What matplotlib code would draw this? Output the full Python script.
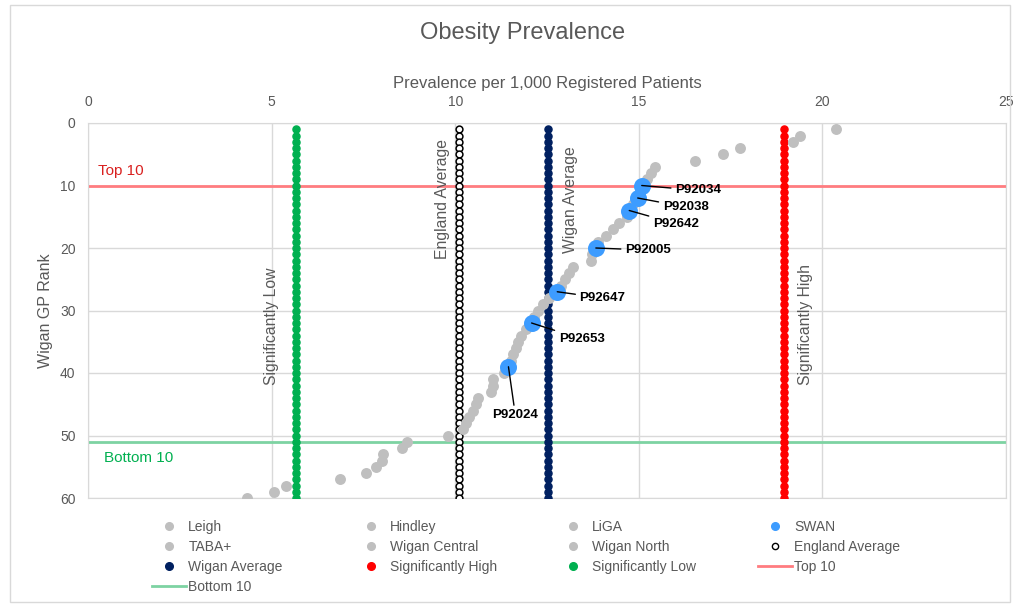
import matplotlib.pyplot as plt
from matplotlib.lines import Line2D
from matplotlib.patches import Rectangle

plt.rcParams['font.family'] = ['Liberation Sans', 'DejaVu Sans']

# practice prevalence (per 1,000) in rank order, rank 1 = highest
ranks = list(range(1, 61))
prevalence = [20.37, 19.39, 19.19, 17.76, 17.30, 16.52, 15.43, 15.32, 15.21, 15.08,
              15.02, 14.97, 14.85, 14.74, 14.67, 14.45, 14.30, 14.12, 13.90, 13.83,
              13.72, 13.70, 13.22, 13.10, 13.00, 12.88, 12.78, 12.55, 12.40, 12.25,
              12.15, 12.08, 11.94, 11.80, 11.72, 11.65, 11.58, 11.52, 11.45, 11.33,
              11.04, 11.02, 10.97, 10.63, 10.58, 10.49, 10.38, 10.29, 10.22, 9.81,
              8.70, 8.56, 8.04, 8.00, 7.83, 7.56, 6.86, 5.39, 5.07, 4.34]

# SWAN network practices
swan_codes = ['P92034', 'P92038', 'P92642', 'P92005', 'P92647', 'P92653', 'P92024']
swan_ranks = [10, 12, 14, 20, 27, 32, 39]

other_networks = ['Leigh', 'Hindley', 'LiGA', 'TABA+', 'Wigan Central', 'Wigan North']

england_avg = 10.1
wigan_avg = 12.53
sig_high = 18.95
sig_low = 5.66
top10_rank = 10
bottom10_rank = 51

GREY_TXT = '#595959'
GRID = '#D9D9D9'
PRACTICE_GREY = '#BFBFBF'
SWAN_BLUE = '#3D9CFF'
NAVY = '#002060'
RED = '#FF0000'
GREEN = '#00B050'
TOP_LINE = '#FF7C80'
BOTTOM_LINE = '#7DD3A2'

fig = plt.figure(figsize=(10.17, 6.06), dpi=100)
fig.patches.append(Rectangle((10 / 1017, 4 / 606), 1000 / 1017, 597 / 606,
                             transform=fig.transFigure, fill=False,
                             edgecolor=GRID, linewidth=1))
ax = fig.add_axes([88 / 1017, 1 - 498 / 606, 918 / 1017, 375 / 606])

# top / bottom 10 cut-offs
ax.axhline(top10_rank, color=TOP_LINE, lw=2, zorder=2)
ax.axhline(bottom10_rank, color=BOTTOM_LINE, lw=2, zorder=2)

# reference values drawn as columns of markers down every rank
ax.scatter([sig_low] * len(ranks), ranks, s=26, color=GREEN, zorder=3)
ax.scatter([sig_high] * len(ranks), ranks, s=26, color=RED, zorder=3)
ax.scatter([wigan_avg] * len(ranks), ranks, s=26, color=NAVY, zorder=3)
ax.scatter([england_avg] * len(ranks), ranks, s=24, facecolor='white',
           edgecolor='black', linewidth=1.1, zorder=3)

swan_vals = [prevalence[r - 1] for r in swan_ranks]
other_x = [v for r, v in zip(ranks, prevalence) if r not in swan_ranks]
other_y = [r for r in ranks if r not in swan_ranks]
ax.scatter(other_x, other_y, s=62, color=PRACTICE_GREY, linewidth=0, zorder=4)
ax.scatter(swan_vals, swan_ranks, s=150, color=SWAN_BLUE, linewidth=0, zorder=5)

# practice code call-outs (offsets in points from the marker)
label_offsets = [(24, -3.5), (18, -6.5), (17, -9.5), (21, -1.5), (16, -4.5),
                 (19.5, -11.5), (5, -35)]
for code, x, y, off in zip(swan_codes, swan_vals, swan_ranks, label_offsets):
    ha = 'center' if off[0] < 10 else 'left'
    ax.annotate(code, (x, y), xytext=off, textcoords='offset points',
                ha=ha, va='center', fontsize=9.5, fontweight='bold', color='black',
                arrowprops=dict(arrowstyle='-', color='black', lw=1,
                                shrinkA=1, shrinkB=0), zorder=6)

ax.text(0.27, 7.6, 'Top 10', color='#D9201F', fontsize=11, va='center')
ax.text(0.44, 53.6, 'Bottom 10', color=GREEN, fontsize=11, va='center')

vlabel = dict(rotation=90, color=GREY_TXT, fontsize=11.3, ha='center', va='center')
ax.text(sig_low - 0.65, 32.5, 'Significantly Low', **vlabel)
ax.text(england_avg - 0.45, 12.2, 'England Average', **vlabel)
ax.text(wigan_avg + 0.6, 12.3, 'Wigan Average', **vlabel)
ax.text(sig_high + 0.6, 32.2, 'Significantly High', **vlabel)

ax.set_xlim(0, 25)
ax.set_ylim(60, 0)
ax.set_xticks(range(0, 26, 5))
ax.set_yticks(range(0, 61, 10))
ax.xaxis.tick_top()
ax.xaxis.set_label_position('top')
ax.tick_params(length=0, labelsize=10, labelcolor=GREY_TXT)
ax.tick_params(axis='x', pad=10)
ax.tick_params(axis='y', pad=9)
ax.grid(True, color=GRID, lw=1)
ax.set_axisbelow(True)
for sp in ax.spines.values():
    sp.set_color(GRID)
ax.set_xlabel('Prevalence per 1,000 Registered Patients', fontsize=12,
              color=GREY_TXT, labelpad=5)
ax.set_ylabel('Wigan GP Rank', fontsize=11.5, color=GREY_TXT, labelpad=5)

fig.text(523 / 1017, 1 - 33 / 606, 'Obesity Prevalence', ha='center', va='center',
         fontsize=17, color=GREY_TXT)

# legend, laid out as four equal-width columns
def dot(color, edge=None, size=5.5):
    return Line2D([], [], ls='none', marker='o', markersize=size,
                  markerfacecolor=color, markeredgecolor=edge or color)

entries = {n: dot(PRACTICE_GREY) for n in other_networks}
entries['SWAN'] = dot(SWAN_BLUE)
entries['England Average'] = dot('white', 'black', 4.5)
entries['Wigan Average'] = dot(NAVY)
entries['Significantly High'] = dot(RED)
entries['Significantly Low'] = dot(GREEN)
entries['Top 10'] = Line2D([], [], color=TOP_LINE, lw=2)
entries['Bottom 10'] = Line2D([], [], color=BOTTOM_LINE, lw=2)

columns = [['Leigh', 'TABA+', 'Wigan Average', 'Bottom 10'],
           ['Hindley', 'Wigan Central', 'Significantly High'],
           ['LiGA', 'Wigan North', 'Significantly Low'],
           ['SWAN', 'England Average', 'Top 10']]
for i, col in enumerate(columns):
    leg = fig.legend([entries[n] for n in col], col, loc='upper left',
                     bbox_to_anchor=((151.5 + 202 * i) / 1017, 1 - 520 / 606),
                     frameon=False, fontsize=10, handlelength=2.5,
                     handletextpad=0.15, labelspacing=0.44, borderpad=0,
                     borderaxespad=0, labelcolor=GREY_TXT)

fig.savefig('out.png', dpi=100)
